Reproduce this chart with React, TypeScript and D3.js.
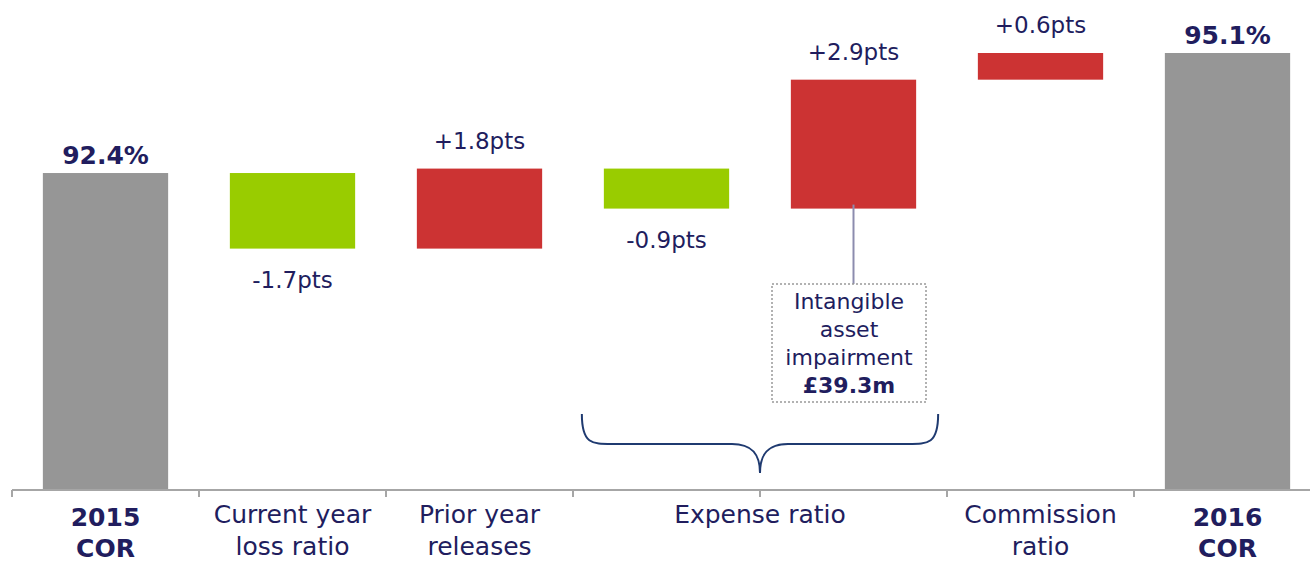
import React from "react";
import * as d3 from "d3";

const categories = ["2015 COR", "Current year loss ratio", "Prior year releases", "Expense ratio A", "Expense ratio B", "Commission ratio", "2016 COR"];
const kinds = ["total", "delta", "delta", "delta", "delta", "delta", "total"];
const values = [92.4, -1.7, 1.8, -0.9, 2.9, 0.6, 95.1];
const valueLabels = ["92.4%", "-1.7pts", "+1.8pts", "-0.9pts", "+2.9pts", "+0.6pts", "95.1%"];
const axisLabels: { lines: string[]; bold: boolean; from: number; to: number }[] = [
  { lines: ["2015", "COR"], bold: true, from: 0, to: 0 },
  { lines: ["Current year", "loss ratio"], bold: false, from: 1, to: 1 },
  { lines: ["Prior year", "releases"], bold: false, from: 2, to: 2 },
  { lines: ["Expense ratio"], bold: false, from: 3, to: 4 },
  { lines: ["Commission", "ratio"], bold: false, from: 5, to: 5 },
  { lines: ["2016", "COR"], bold: true, from: 6, to: 6 },
];
const noteLines = ["Intangible", "asset", "impairment"];
const noteValue = "£39.3m";

const W = 1310, H = 561;
const FONT = "'DejaVu Sans', 'Open Sans', sans-serif";
const NAVY = "#211d5e";
const GRAY = "#969696", GREEN = "#99cc00", RED = "#cc3333";

export default function App() {
  const x = d3.scaleBand<number>().domain(d3.range(categories.length)).range([12, 1321]).paddingInner(0.33).paddingOuter(0.165);
  const y = d3.scaleLinear().domain([85.27, 95.1]).range([490, 53]);
  const step = x.step();
  const bw = x.bandwidth();

  let cum = 0;
  const bars = values.map((v, i) => {
    if (kinds[i] === "total") {
      cum = v;
      return { i, y0: y(v), y1: y(y.domain()[0]), color: GRAY, kind: "total", v };
    }
    const start = cum;
    cum = +(cum + v).toFixed(2);
    const top = Math.max(start, cum), bot = Math.min(start, cum);
    return { i, y0: y(top), y1: y(bot), color: v < 0 ? GREEN : RED, kind: "delta", v };
  });

  const bandStart = (i: number) => (x(i) as number) - (step - bw) / 2;
  const ticks = d3.range(categories.length + 1).map((i) => 12 + i * step);

  const bL = (x(3) as number) - 22, bR = (x(4) as number) + bw + 22;
  const bMid = (bL + bR) / 2;
  const bTop = 414, bLine = 444, bTip = 473;
  const brace = `M${bL},${bTop} C${bL},${bLine} ${bL + 10},${bLine} ${bL + 30},${bLine} L${bMid - 28},${bLine} C${bMid - 8},${bLine} ${bMid},${bLine + 10} ${bMid},${bTip} C${bMid},${bLine + 10} ${bMid + 8},${bLine} ${bMid + 28},${bLine} L${bR - 30},${bLine} C${bR - 10},${bLine} ${bR},${bLine} ${bR},${bTop}`;

  const impBar = bars[4];
  const impX = (x(4) as number) + bw / 2;

  return (
    <svg width={W} height={H} style={{ position: "absolute", left: 0, top: 0, background: "#fff" }}>
      {bars.map((b) => (
        <rect key={b.i} x={x(b.i)} y={b.y0} width={bw} height={b.y1 - b.y0} fill={b.color} />
      ))}
      {bars.map((b) => {
        const cx = (x(b.i) as number) + bw / 2;
        if (b.kind === "total")
          return (
            <text key={"l" + b.i} x={cx} y={b.y0 - 9} textAnchor="middle" fontFamily={FONT} fontWeight="bold" fontSize={25} fill={NAVY}>
              {valueLabels[b.i]}
            </text>
          );
        const above = b.v > 0;
        return (
          <text key={"l" + b.i} x={cx} y={above ? b.y0 - 20 : b.y1 + 39} textAnchor="middle" fontFamily={FONT} fontSize={23} fill={NAVY}>
            {valueLabels[b.i]}
          </text>
        );
      })}
      <line x1={12} x2={W} y1={490} y2={490} stroke="#a6a6a6" strokeWidth={2} />
      {ticks.map((t, i) => (
        <line key={"t" + i} x1={t} x2={t} y1={490} y2={497} stroke="#a6a6a6" strokeWidth={2} />
      ))}
      {axisLabels.map((a, k) => {
        const cx = (bandStart(a.from) + bandStart(a.to) + step) / 2;
        return (
          <text key={"a" + k} textAnchor="middle" fontFamily={FONT} fontWeight={a.bold ? "bold" : "normal"} fontSize={a.bold ? 25 : 25} fill={NAVY}>
            {a.lines.map((ln, j) => (
              <tspan key={j} x={cx} y={a.bold ? 526 + j * 31 : 523 + j * 32}>
                {ln}
              </tspan>
            ))}
          </text>
        );
      })}
      <path d={brace} fill="none" stroke="#1f3a70" strokeWidth={2} />
      <line x1={impX} x2={impX} y1={impBar.y1 - 4} y2={284} stroke="#8c8cae" strokeWidth={2} />
      <rect x={772} y={284} width={154} height={118} fill="#fff" stroke="#999" strokeWidth={1.5} strokeDasharray="2,2" />
      <text textAnchor="middle" fontFamily={FONT} fontSize={22} fill={NAVY}>
        {noteLines.map((ln, j) => (
          <tspan key={j} x={849} y={309 + j * 28}>
            {ln}
          </tspan>
        ))}
        <tspan x={849} y={393} fontWeight="bold">
          {noteValue}
        </tspan>
      </text>
    </svg>
  );
}
